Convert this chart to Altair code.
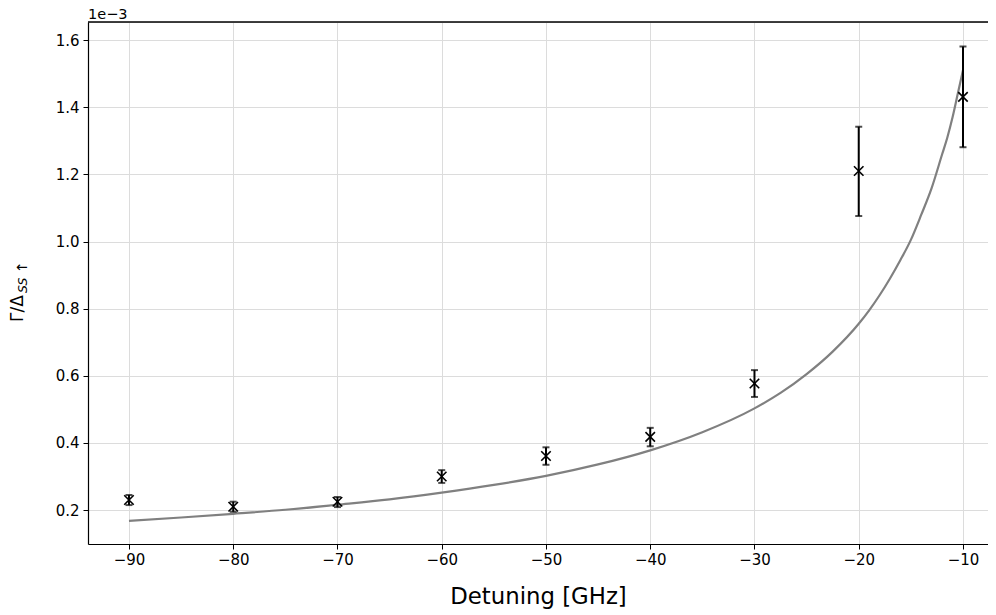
import altair as alt
import pandas as pd

# measured points (values in units of 1e-3)
det = [-90, -80, -70, -60, -50, -40, -30, -20, -10]
gam = [0.230, 0.210, 0.225, 0.300, 0.361, 0.418, 0.577, 1.210, 1.431]
lo = [0.215, 0.195, 0.209, 0.281, 0.335, 0.390, 0.537, 1.076, 1.281]
hi = [0.245, 0.225, 0.239, 0.319, 0.387, 0.445, 0.617, 1.342, 1.581]

# model curve
cx = [-90, -85, -80, -75, -70, -65, -60, -55, -50, -45, -40, -35, -30, -27.5,
      -25, -22.5, -20, -19, -18, -17, -16, -15, -14, -13, -12, -11.5, -11,
      -10.5, -10]
cy = [0.168, 0.178, 0.189, 0.201, 0.216, 0.232, 0.252, 0.275, 0.302, 0.336,
      0.378, 0.432, 0.503, 0.549, 0.605, 0.672, 0.755, 0.795, 0.840, 0.890,
      0.945, 1.005, 1.080, 1.160, 1.260, 1.310, 1.370, 1.440, 1.510]

xticks = [-90, -80, -70, -60, -50, -40, -30, -20, -10]
yticks = [0.2, 0.4, 0.6, 0.8, 1.0, 1.2, 1.4, 1.6]

W, H = 900, 522
FONT = "DejaVu Sans"

pts = pd.DataFrame({"x": det, "y": gam, "lo": lo, "hi": hi})
curve = pd.DataFrame({"x": cx, "y": cy})
one = pd.DataFrame({"k": [0]})

xs = alt.Scale(domain=[-93.93, -7.6], nice=False, zero=False)
ys = alt.Scale(domain=[0.099, 1.654], nice=False, zero=False)

xax = alt.Axis(values=xticks, format="d", title="Detuning [GHz]", grid=True,
               gridColor="#dcdcdc", gridWidth=1, domainColor="black", domainWidth=1.2,
               tickColor="black", tickSize=5, tickWidth=1, labelFont=FONT, labelFontSize=15,
               labelColor="black", labelPadding=3, titleFont=FONT, titleFontSize=22.8,
               titleFontWeight="normal", titleColor="black", titlePadding=18)
yax = alt.Axis(values=yticks, format=".1f", title=None, grid=True,
               gridColor="#dcdcdc", gridWidth=1, domainColor="black", domainWidth=1.2,
               tickColor="black", tickSize=5, tickWidth=1, labelFont=FONT, labelFontSize=15,
               labelColor="black", labelPadding=4)

base = alt.Chart(pts)

line = alt.Chart(curve).mark_line(color="#808080", strokeWidth=2.2,
                                  interpolate="monotone").encode(
    x=alt.X("x:Q", scale=xs, axis=xax), y=alt.Y("y:Q", scale=ys, axis=yax))

err = base.mark_rule(color="black", strokeWidth=2).encode(
    x=alt.X("x:Q", scale=xs), y=alt.Y("lo:Q", scale=ys), y2="hi:Q")
caplo = base.mark_tick(orient="horizontal", color="black", size=7, thickness=2).encode(
    x=alt.X("x:Q", scale=xs), y=alt.Y("lo:Q", scale=ys))
caphi = base.mark_tick(orient="horizontal", color="black", size=7, thickness=2).encode(
    x=alt.X("x:Q", scale=xs), y=alt.Y("hi:Q", scale=ys))
mk = base.mark_point(shape="M-1,-1L1,1M-1,1L1,-1", filled=False, color="black",
                     strokeWidth=1.6, size=90, opacity=1).encode(
    x=alt.X("x:Q", scale=xs), y=alt.Y("y:Q", scale=ys))

top = alt.Chart(one).mark_rule(color="black", strokeWidth=1.5).encode(
    x=alt.value(0), x2=alt.value(W), y=alt.value(0))

offset = alt.Chart(one).mark_text(text="1e\u22123", align="left", baseline="alphabetic",
                                  font=FONT, fontSize=14.5, color="black").encode(
    x=alt.value(0), y=alt.value(-3))

ylab1 = alt.Chart(one).mark_text(text="\u0393/\u0394", angle=270, align="left",
                                 baseline="alphabetic", font=FONT, fontSize=17,
                                 color="black").encode(x=alt.value(-65), y=alt.value(300))
ylab2 = alt.Chart(one).mark_text(text="SS", angle=270, align="left",
                                 baseline="alphabetic", font=FONT, fontSize=12.5,
                                 fontStyle="italic", color="black").encode(
    x=alt.value(-61), y=alt.value(271))
ylab3 = alt.Chart(one).mark_text(text="\u2191", angle=270, align="left",
                                 baseline="alphabetic", font=FONT, fontSize=14,
                                 color="black").encode(x=alt.value(-61), y=alt.value(251))

chart = alt.layer(line, err, caplo, caphi, mk, top, offset, ylab1, ylab2, ylab3).properties(
    width=W, height=H,
    autosize=alt.AutoSizeParams(type="none"),
    padding={"left": 80, "top": 14, "right": 0, "bottom": 67},
).configure_view(stroke=None).configure(background="white")

chart.save("out.html", embed_options={"renderer": "svg", "actions": False})
